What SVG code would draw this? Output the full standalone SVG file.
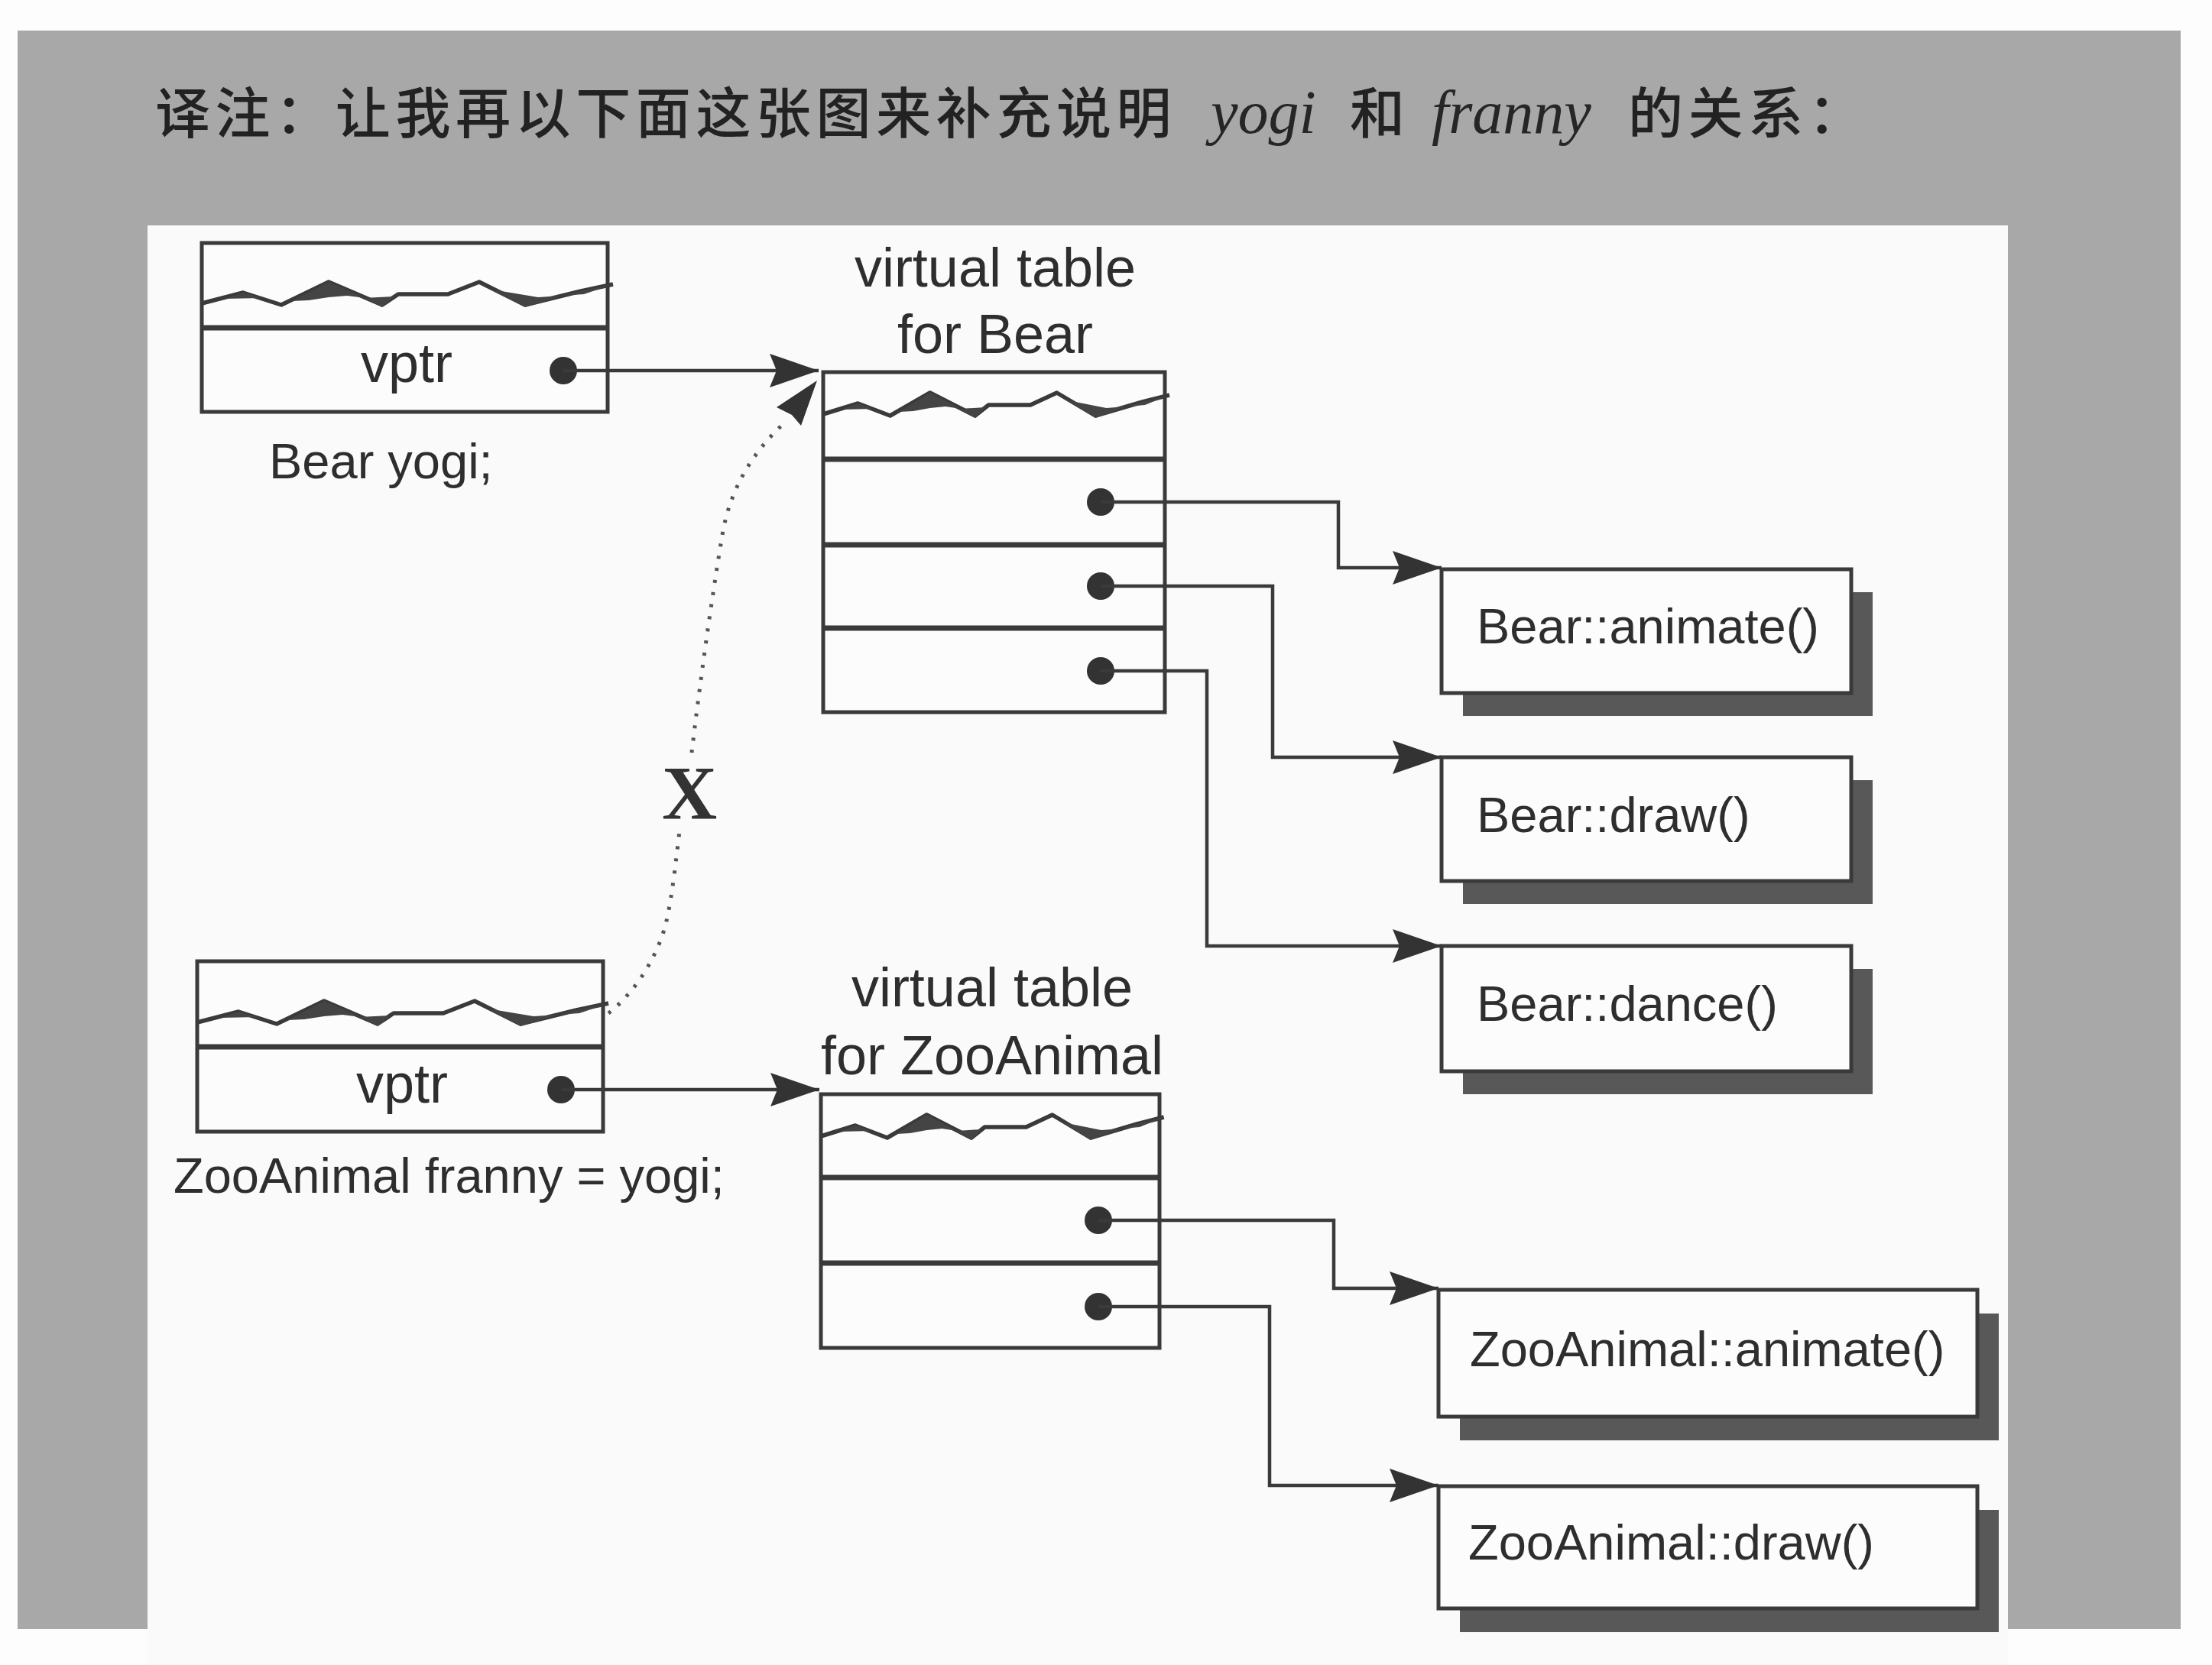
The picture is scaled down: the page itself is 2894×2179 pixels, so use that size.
<svg xmlns="http://www.w3.org/2000/svg" width="2894" height="2179" viewBox="0 0 2894 2179">
<style>
.box{fill:#fcfcfc;stroke:#3a3a3a;stroke-width:5}
.div{stroke:#3a3a3a;stroke-width:7}
.shadow{fill:#585858}
.dot{fill:#333333}
.conn{fill:none;stroke:#3a3a3a;stroke-width:4.5}
.lbl{font-family:"Liberation Sans",Arial,sans-serif;fill:#2e2e2e;font-size:65px}
.big{font-size:72px}
.mid{text-anchor:middle}
.dotted{fill:none;stroke:#555555;stroke-width:5;stroke-dasharray:4 12}
.title{font-family:"Noto Sans CJK SC","Noto Sans CJK TC",sans-serif;font-size:72px;font-weight:500;fill:#222222;letter-spacing:6.6px}
.it{font-family:"Liberation Serif","Times New Roman",serif;font-style:italic;font-size:80px;fill:#262626}
.xmark{font-family:"Liberation Serif","Times New Roman",serif;font-weight:bold;font-size:100px;fill:#333333;text-anchor:middle}
</style>
<defs>
<marker id="arr" markerUnits="userSpaceOnUse" viewBox="0 0 66 46" markerWidth="66" markerHeight="46" refX="64" refY="23" orient="auto">
<path d="M0,1 L64,23 L0,45 L9,23 Z" fill="#333333"/>
</marker>
<g id="wave">
<polyline points="0,80 54,66 104,82 166,52 236,82 257,68 322,68 363,52 423,82 496,64 538,55" fill="none" stroke="#3a3a3a" stroke-width="5.5" stroke-linejoin="round" vector-effect="non-scaling-stroke"/>
<polygon points="118,77 166,52 214,73 190,70 166,72 140,76" fill="#444444"/>
<polygon points="212,73 236,85 252,71" fill="#444444"/>
<polygon points="380,62 423,85 472,70 440,72" fill="#444444"/>
<polygon points="30,74 54,66 78,73" fill="#444444"/>
<polygon points="472,70 496,64 538,55 500,68" fill="#444444"/>
</g>
</defs>

<g id="background">
<rect width="2894" height="2179" fill="#fdfdfd"/>
<rect x="23" y="40" width="2830" height="2092" fill="#a8a8a8"/>
<rect x="193" y="295" width="2434" height="1884" fill="#fafafa"/>
</g>

<g id="title">
<text class="title" x="203" y="174">译注：让我再以下面这张图来补充说明</text>
<text class="it" x="1584" y="174">yogi</text>
<text class="title" x="1766" y="174">和</text>
<text class="it" x="1873" y="174">franny</text>
<text class="title" x="2130" y="174">的关系：</text>
</g>

<g id="bear-yogi">
<rect class="box" x="264" y="318" width="531" height="221"/>
<use href="#wave" transform="translate(264,317)"/>
<line class="div" x1="264" y1="429" x2="795" y2="429"/>
<text class="lbl big mid" x="532" y="500">vptr</text>
<circle class="dot" cx="737" cy="485" r="18"/>
<text class="lbl" x="352" y="626">Bear yogi;</text>
</g>

<g id="vtable-bear">
<text class="lbl big mid" x="1302" y="375">virtual table</text>
<text class="lbl big mid" x="1302" y="462">for Bear</text>
<rect class="box" x="1077" y="487" width="447" height="445"/>
<use href="#wave" transform="translate(1077,462) scale(0.842,1)"/>
<line class="div" x1="1077" y1="601" x2="1524" y2="601"/>
<line class="div" x1="1077" y1="713" x2="1524" y2="713"/>
<line class="div" x1="1077" y1="822" x2="1524" y2="822"/>
<circle class="dot" cx="1440" cy="657" r="18"/>
<circle class="dot" cx="1440" cy="767" r="18"/>
<circle class="dot" cx="1440" cy="878" r="18"/>
</g>

<g id="bear-animate">
<rect class="shadow" x="1914" y="775" width="536" height="162"/>
<rect class="box" x="1886" y="745" width="536" height="162"/>
<text class="lbl" x="1932" y="842">Bear::animate()</text>
</g>

<g id="bear-draw">
<rect class="shadow" x="1914" y="1021" width="536" height="162"/>
<rect class="box" x="1886" y="991" width="536" height="162"/>
<text class="lbl" x="1932" y="1089">Bear::draw()</text>
</g>

<g id="bear-dance">
<rect class="shadow" x="1914" y="1268" width="536" height="164"/>
<rect class="box" x="1886" y="1238" width="536" height="164"/>
<text class="lbl" x="1932" y="1336">Bear::dance()</text>
</g>

<g id="zooanimal-franny">
<rect class="box" x="258" y="1258" width="531" height="223"/>
<use href="#wave" transform="translate(258,1258)"/>
<line class="div" x1="258" y1="1370" x2="789" y2="1370"/>
<text class="lbl big mid" x="526" y="1443">vptr</text>
<circle class="dot" cx="734" cy="1426" r="18"/>
<text class="lbl" x="227" y="1561">ZooAnimal franny = yogi;</text>
</g>

<g id="vtable-zooanimal">
<text class="lbl big mid" x="1298" y="1317">virtual table</text>
<text class="lbl big mid" x="1298" y="1406">for ZooAnimal</text>
<rect class="box" x="1074" y="1432" width="443" height="332"/>
<use href="#wave" transform="translate(1074,1407) scale(0.834,1)"/>
<line class="div" x1="1074" y1="1541" x2="1517" y2="1541"/>
<line class="div" x1="1074" y1="1653" x2="1517" y2="1653"/>
<circle class="dot" cx="1437" cy="1597" r="18"/>
<circle class="dot" cx="1437" cy="1710" r="18"/>
</g>

<g id="zooanimal-animate">
<rect class="shadow" x="1910" y="1719" width="705" height="166"/>
<rect class="box" x="1882" y="1688" width="705" height="166"/>
<text class="lbl" x="1923" y="1788">ZooAnimal::animate()</text>
</g>

<g id="zooanimal-draw">
<rect class="shadow" x="1910" y="1976" width="705" height="160"/>
<rect class="box" x="1882" y="1945" width="705" height="160"/>
<text class="lbl" x="1921" y="2041">ZooAnimal::draw()</text>
</g>

<g id="connectors">
<path class="conn" d="M737,485 H1071" marker-end="url(#arr)"/>
<path class="conn" d="M1440,657 H1751 V743 H1886" marker-end="url(#arr)"/>
<path class="conn" d="M1440,767 H1665 V991 H1886" marker-end="url(#arr)"/>
<path class="conn" d="M1440,878 H1579 V1238 H1886" marker-end="url(#arr)"/>
<path class="conn" d="M734,1426 H1072" marker-end="url(#arr)"/>
<path class="conn" d="M1437,1597 H1745 V1686 H1882" marker-end="url(#arr)"/>
<path class="conn" d="M1437,1710 H1661 V1944 H1882" marker-end="url(#arr)"/>
<path class="dotted" d="M796,1326 C830,1300 862,1250 872,1205 C880,1170 885,1120 890,1080"/>
<path class="dotted" d="M905,985 C915,900 930,790 945,700 C955,640 985,590 1030,550"/>
<polygon points="1069,498 1048,557 1036,543 1016,533" fill="#333333"/>
<text class="xmark" x="902" y="1071">X</text>
</g>
</svg>
